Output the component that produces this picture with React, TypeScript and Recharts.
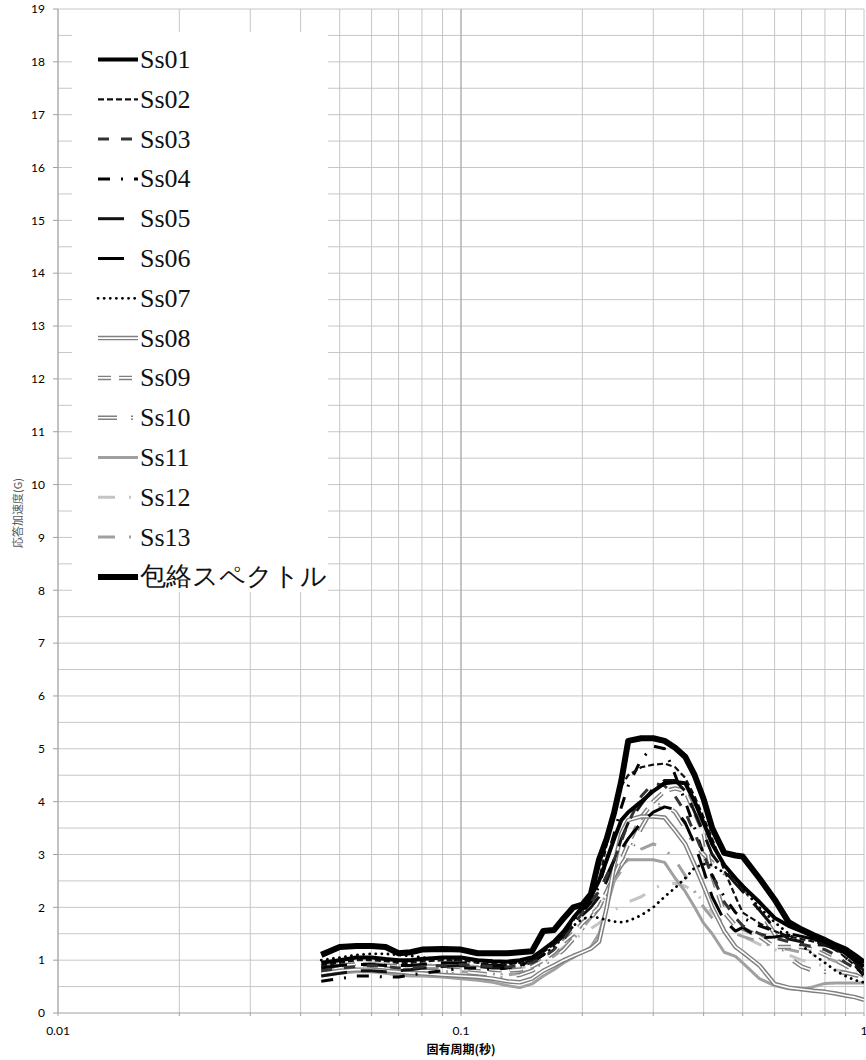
import React from "react";
import { LineChart, Line, XAxis, YAxis, CartesianGrid, Legend, ReferenceLine } from "recharts";

// 固有周期 (秒)
const periods = [
  0.045, 0.05, 0.055, 0.06, 0.065, 0.07, 0.075, 0.08, 0.09, 0.1,
  0.11, 0.12, 0.13, 0.14, 0.15, 0.16, 0.17, 0.18, 0.19, 0.2,
  0.21, 0.22, 0.23, 0.24, 0.25, 0.26, 0.28, 0.3, 0.32, 0.34,
  0.36, 0.38, 0.4, 0.42, 0.45, 0.48, 0.5, 0.55, 0.6, 0.65,
  0.7, 0.75, 0.8, 0.85, 0.9, 0.95, 1.0,
];

// 応答加速度 (G)
const ss01 = [0.95, 1.0, 1.05, 1.05, 1.02, 1.0, 1.0, 1.02, 1.05, 1.05, 1.0, 0.98, 0.97, 1.0, 1.05, 1.2, 1.35, 1.55, 1.8,
  2.0, 2.2, 2.5, 2.9, 3.3, 3.65, 3.8, 4.0, 4.2, 4.35, 4.37, 4.35, 4.0, 3.6, 3.2, 2.8, 2.55, 2.4, 2.1, 1.8, 1.65, 1.55, 1.45, 1.35, 1.25, 1.15, 1.02, 0.88];
const ss02 = [0.9, 0.95, 1.0, 1.0, 0.98, 0.95, 0.95, 0.97, 1.0, 1.0, 0.95, 0.93, 0.92, 0.95, 1.0, 1.15, 1.3, 1.5, 1.75,
  2.0, 2.2, 2.5, 3.2, 3.9, 4.3, 4.5, 4.65, 4.7, 4.72, 4.65, 4.45, 4.1, 3.7, 3.3, 2.7, 2.2, 1.9, 1.7, 1.55, 1.45, 1.4, 1.35, 1.3, 1.2, 1.05, 0.9, 0.75];
const ss03 = [0.8, 0.85, 0.88, 0.9, 0.88, 0.85, 0.85, 0.88, 0.9, 0.92, 0.9, 0.88, 0.87, 0.9, 0.95, 1.05, 1.2, 1.4, 1.65,
  1.9, 2.1, 2.3, 2.6, 2.9, 3.25, 3.6, 4.1, 4.35, 4.3, 4.1, 3.8, 3.4, 3.0, 2.6, 2.1, 1.8, 1.65, 1.5, 1.42, 1.35, 1.3, 1.25, 1.2, 1.1, 0.95, 0.85, 0.75];
const ss04 = [0.6, 0.65, 0.7, 0.7, 0.68, 0.68, 0.72, 0.75, 0.8, 0.85, 0.85, 0.82, 0.85, 0.9, 0.95, 1.1, 1.3, 1.5, 1.7,
  1.9, 2.1, 2.4, 2.9, 3.4, 3.9, 4.3, 4.8, 5.05, 5.0, 4.5, 4.0, 3.5, 3.0, 2.6, 2.2, 1.9, 1.8, 1.65, 1.55, 1.5, 1.45, 1.4, 1.3, 1.2, 1.05, 0.9, 0.7];
const ss05 = [0.7, 0.75, 0.8, 0.8, 0.78, 0.8, 0.82, 0.85, 0.88, 0.9, 0.88, 0.85, 0.85, 0.9, 1.0, 1.15, 1.3, 1.45, 1.65,
  1.85, 2.0, 2.2, 2.5, 2.9, 3.3, 3.6, 3.95, 4.25, 4.4, 4.4, 4.2, 3.8, 3.4, 3.0, 2.7, 2.45, 2.3, 1.95, 1.6, 1.4, 1.35, 1.3, 1.28, 1.22, 1.1, 0.95, 0.8];
const ss06 = [0.85, 0.9, 0.92, 0.92, 0.9, 0.9, 0.9, 0.92, 0.95, 0.95, 0.92, 0.9, 0.9, 0.92, 0.98, 1.1, 1.3, 1.5, 1.75,
  1.95, 2.1, 2.3, 2.6, 2.9, 3.1, 3.3, 3.6, 3.8, 3.9, 3.85, 3.6, 3.2, 2.7, 2.2, 1.75, 1.55, 1.62, 1.42, 1.44, 1.47, 1.45, 1.4, 1.33, 1.25, 1.12, 0.98, 0.85];
const ss07 = [1.0, 1.05, 1.1, 1.12, 1.12, 1.1, 1.08, 1.05, 1.02, 1.0, 1.0, 0.98, 0.95, 0.95, 1.0, 1.1, 1.25, 1.45, 1.65,
  1.78, 1.82, 1.8, 1.76, 1.73, 1.72, 1.74, 1.85, 2.0, 2.2, 2.37, 2.55, 2.75, 2.82, 2.8, 2.65, 2.55, 2.35, 2.0, 1.72, 1.5, 1.28, 1.1, 0.95, 0.8, 0.7, 0.62, 0.58];
const ss08 = [0.75, 0.8, 0.82, 0.82, 0.8, 0.78, 0.76, 0.75, 0.72, 0.7, 0.68, 0.65, 0.6, 0.58, 0.65, 0.8, 0.9, 1.0, 1.08,
  1.15, 1.22, 1.35, 2.0, 2.8, 3.4, 3.65, 3.72, 3.72, 3.7, 3.45, 3.2, 2.8, 2.4, 2.0, 1.55, 1.25, 1.15, 0.9, 0.55, 0.48, 0.45, 0.42, 0.4, 0.37, 0.33, 0.3, 0.25];
const ss09 = [0.85, 0.9, 0.92, 0.92, 0.9, 0.88, 0.87, 0.88, 0.88, 0.87, 0.85, 0.82, 0.8, 0.82, 0.88, 1.0, 1.15, 1.35, 1.5,
  1.7, 1.85, 2.0, 2.3, 2.6, 2.9, 3.2, 3.7, 4.0, 4.2, 4.25, 4.2, 3.8, 3.4, 2.6, 1.9, 1.65, 1.6, 1.45, 1.25, 1.25, 1.25, 1.2, 1.1, 1.0, 0.9, 0.8, 0.7];
const ss10 = [0.8, 0.85, 0.88, 0.88, 0.85, 0.82, 0.8, 0.8, 0.8, 0.78, 0.75, 0.72, 0.7, 0.72, 0.8, 0.92, 1.05, 1.2, 1.4,
  1.6, 1.8, 2.0, 2.3, 2.6, 2.8, 3.0, 3.5, 3.9, 3.95, 3.8, 3.5, 3.2, 3.0, 2.85, 2.65, 2.5, 2.4, 1.95, 1.5, 1.05, 0.88, 0.8, 0.78, 0.78, 0.76, 0.72, 0.68];
const ss11 = [0.7, 0.75, 0.78, 0.78, 0.75, 0.72, 0.7, 0.7, 0.68, 0.65, 0.62, 0.58, 0.52, 0.48, 0.55, 0.7, 0.82, 0.95, 1.05,
  1.15, 1.25, 1.5, 2.0, 2.5, 2.8, 2.9, 2.9, 2.9, 2.85, 2.55, 2.3, 2.0, 1.7, 1.5, 1.15, 1.07, 0.95, 0.65, 0.52, 0.46, 0.44, 0.5, 0.56, 0.57, 0.57, 0.57, 0.57];
const ss12 = [0.9, 0.92, 0.95, 0.95, 0.92, 0.9, 0.9, 0.9, 0.92, 0.9, 0.88, 0.85, 0.82, 0.85, 0.9, 1.0, 1.1, 1.25, 1.38,
  1.5, 1.6, 1.7, 1.82, 1.95, 2.02, 2.1, 2.2, 2.35, 2.45, 2.45, 2.4, 2.3, 2.1, 1.9, 1.7, 1.55, 1.45, 1.3, 1.2, 1.1, 1.0, 0.95, 0.88, 0.82, 0.78, 0.72, 0.65];
const ss13 = [0.75, 0.78, 0.8, 0.8, 0.78, 0.76, 0.75, 0.76, 0.78, 0.78, 0.76, 0.74, 0.72, 0.75, 0.82, 0.95, 1.08, 1.22, 1.4,
  1.6, 1.8, 2.0, 2.25, 2.5, 2.7, 2.9, 3.1, 3.2, 3.1, 2.9, 2.6, 2.3, 2.0, 1.8, 1.6, 1.5, 1.45, 1.35, 1.25, 1.2, 1.15, 1.1, 1.05, 0.98, 0.9, 0.82, 0.75];
const envelope = [1.1, 1.25, 1.27, 1.27, 1.25, 1.13, 1.15, 1.2, 1.21, 1.2, 1.13, 1.13, 1.13, 1.15, 1.17, 1.55, 1.57, 1.8, 2.0,
  2.05, 2.25, 2.9, 3.3, 3.8, 4.4, 5.15, 5.2, 5.2, 5.15, 5.02, 4.85, 4.5, 4.05, 3.5, 3.03, 2.98, 2.96, 2.55, 2.15, 1.72, 1.58, 1.47, 1.38, 1.28, 1.2, 1.08, 0.95];

const xLabels = [0.01, 0.1, 1];
const xGrid = [0.01, 0.02, 0.03, 0.04, 0.05, 0.06, 0.07, 0.08, 0.09, 0.1, 0.2, 0.3, 0.4, 0.5, 0.6, 0.7, 0.8, 0.9, 1];
const yTicks = [0, 1, 2, 3, 4, 5, 6, 7, 8, 9, 10, 11, 12, 13, 14, 15, 16, 17, 18, 19];
const yGrid = [0.5, 1, 1.5, 2, 2.5, 3, 3.5, 4, 4.5, 5, 5.5, 6, 6.5, 7, 7.5, 8, 8.5, 9, 9.5, 10,
  10.5, 11, 11.5, 12, 12.5, 13, 13.5, 14, 14.5, 15, 15.5, 16, 16.5, 17, 17.5, 18, 18.5, 19];

type Series = {
  key: string;
  name: string;
  values: number[];
  stroke: string;
  width: number;
  dash?: string;
  double?: boolean;
  round?: boolean;
};

// legend order
const series: Series[] = [
  { key: "ss01", name: "Ss01", values: ss01, stroke: "#000", width: 4 },
  { key: "ss02", name: "Ss02", values: ss02, stroke: "#111", width: 2.2, dash: "6 3" },
  { key: "ss03", name: "Ss03", values: ss03, stroke: "#333", width: 3, dash: "11 12" },
  { key: "ss04", name: "Ss04", values: ss04, stroke: "#000", width: 3, dash: "12 11 2 11" },
  { key: "ss05", name: "Ss05", values: ss05, stroke: "#111", width: 3, dash: "26 14" },
  { key: "ss06", name: "Ss06", values: ss06, stroke: "#000", width: 3, dash: "26 14" },
  { key: "ss07", name: "Ss07", values: ss07, stroke: "#000", width: 2.8, dash: "0.1 6", round: true },
  { key: "ss08", name: "Ss08", values: ss08, stroke: "#7f7f7f", width: 4.5, double: true },
  { key: "ss09", name: "Ss09", values: ss09, stroke: "#7f7f7f", width: 4.5, dash: "13 8", double: true },
  { key: "ss10", name: "Ss10", values: ss10, stroke: "#7f7f7f", width: 4.5, dash: "19 14 2 14", double: true },
  { key: "ss11", name: "Ss11", values: ss11, stroke: "#a0a0a0", width: 3 },
  { key: "ss12", name: "Ss12", values: ss12, stroke: "#c4c4c4", width: 3, dash: "17 14 2 14" },
  { key: "ss13", name: "Ss13", values: ss13, stroke: "#a0a0a0", width: 3, dash: "17 14 2 14" },
  { key: "env", name: "包絡スペクトル", values: envelope, stroke: "#000", width: 6 },
];

// drawing order: light greys underneath, envelope on top
const drawOrder = ["ss12", "ss13", "ss11", "ss10", "ss09", "ss08", "ss07", "ss06", "ss05", "ss04", "ss03", "ss02", "ss01", "env"];

const data = periods.map((p, i) => {
  const row: Record<string, number> = { period: p };
  series.forEach((s) => (row[s.key] = s.values[i]));
  return row;
});

const legendFont = {
  fontFamily: "'Times New Roman', 'Liberation Serif', 'DejaVu Serif', 'Noto Serif', serif",
  fontSize: 26,
};

function LegendBox() {
  return (
    <svg width={256} height={560} style={{ display: "block" }}>
      {series.map((s, i) => {
        const cy = 27.5 + i * 39.8;
        return (
          <g key={s.key}>
            <line x1={26} x2={66} y1={cy} y2={cy} stroke={s.stroke} strokeWidth={s.width}
              strokeDasharray={s.dash} strokeLinecap={s.round ? "round" : "butt"} />
            {s.double && (
              <line x1={26} x2={66} y1={cy} y2={cy} stroke="#fff" strokeWidth={1.6} strokeDasharray={s.dash} />
            )}
            <text x={68} y={cy + 8.5} style={legendFont} fill="#111">
              {s.name}
            </text>
          </g>
        );
      })}
    </svg>
  );
}

function YTitle() {
  return (
    <text x={22} y={513} transform="rotate(-90 22 513)" textAnchor="middle"
      style={{ fontFamily: "'Noto Sans CJK JP', sans-serif", fontSize: 11 }} fill="#595959">
      応答加速度(G)
    </text>
  );
}

function XTitle() {
  return (
    <text x={461} y={1054} textAnchor="middle"
      style={{ fontFamily: "'Noto Sans CJK JP', sans-serif", fontSize: 12, fontWeight: "bold" }} fill="#000">
      固有周期(秒)
    </text>
  );
}

const tickFont = { fontSize: 12, fill: "#000", fontFamily: "Lato, sans-serif" };

export default function App() {
  const byKey = Object.fromEntries(series.map((s) => [s.key, s]));
  return (
    <div style={{ position: "absolute", left: 0, top: 0, background: "#fff" }}>
      <LineChart width={866} height={1060} data={data} margin={{ top: 9, right: 2, bottom: 0, left: 0 }}>
        <CartesianGrid stroke="#c6c6c6" strokeWidth={1} verticalValues={xGrid} horizontalValues={yGrid} />
        <ReferenceLine x={0.1} stroke="#a6a6a6" strokeWidth={1} />
        <XAxis dataKey="period" type="number" scale="log" domain={[0.01, 1]} ticks={xGrid} interval={0}
          allowDataOverflow height={47} tickSize={3} tickMargin={10}
          axisLine={{ stroke: "#a0a0a0" }} tickLine={{ stroke: "#a0a0a0" }}
          tick={tickFont}
          tickFormatter={(v: number) => (xLabels.includes(v) ? String(v) : "")}
          label={<XTitle />} />
        <YAxis type="number" domain={[0, 19]} ticks={yTicks} width={58} interval={0}
          tickSize={5} tickMargin={8}
          axisLine={{ stroke: "#a0a0a0" }} tickLine={{ stroke: "#a0a0a0" }}
          tick={tickFont}
          label={<YTitle />} />
        <Legend layout="vertical" align="center" verticalAlign="middle" width={256} height={560}
          wrapperStyle={{ left: 72, top: 32, width: 256, height: 560, background: "#fff" }}
          content={() => <LegendBox />} />
        {drawOrder.flatMap((k) => {
          const s = byKey[k];
          const lines = [
            <Line key={s.key} type="linear" dataKey={s.key} name={s.name} stroke={s.stroke}
              strokeWidth={s.width} strokeDasharray={s.dash} strokeLinecap={s.round ? "round" : "butt"}
              strokeLinejoin="round" dot={false} activeDot={false} isAnimationActive={false} />,
          ];
          if (s.double) {
            lines.push(
              <Line key={s.key + "-in"} type="linear" dataKey={s.key} legendType="none" stroke="#fff"
                strokeWidth={1.6} strokeDasharray={s.dash} strokeLinejoin="round"
                dot={false} activeDot={false} isAnimationActive={false} />
            );
          }
          return lines;
        })}
      </LineChart>
    </div>
  );
}
